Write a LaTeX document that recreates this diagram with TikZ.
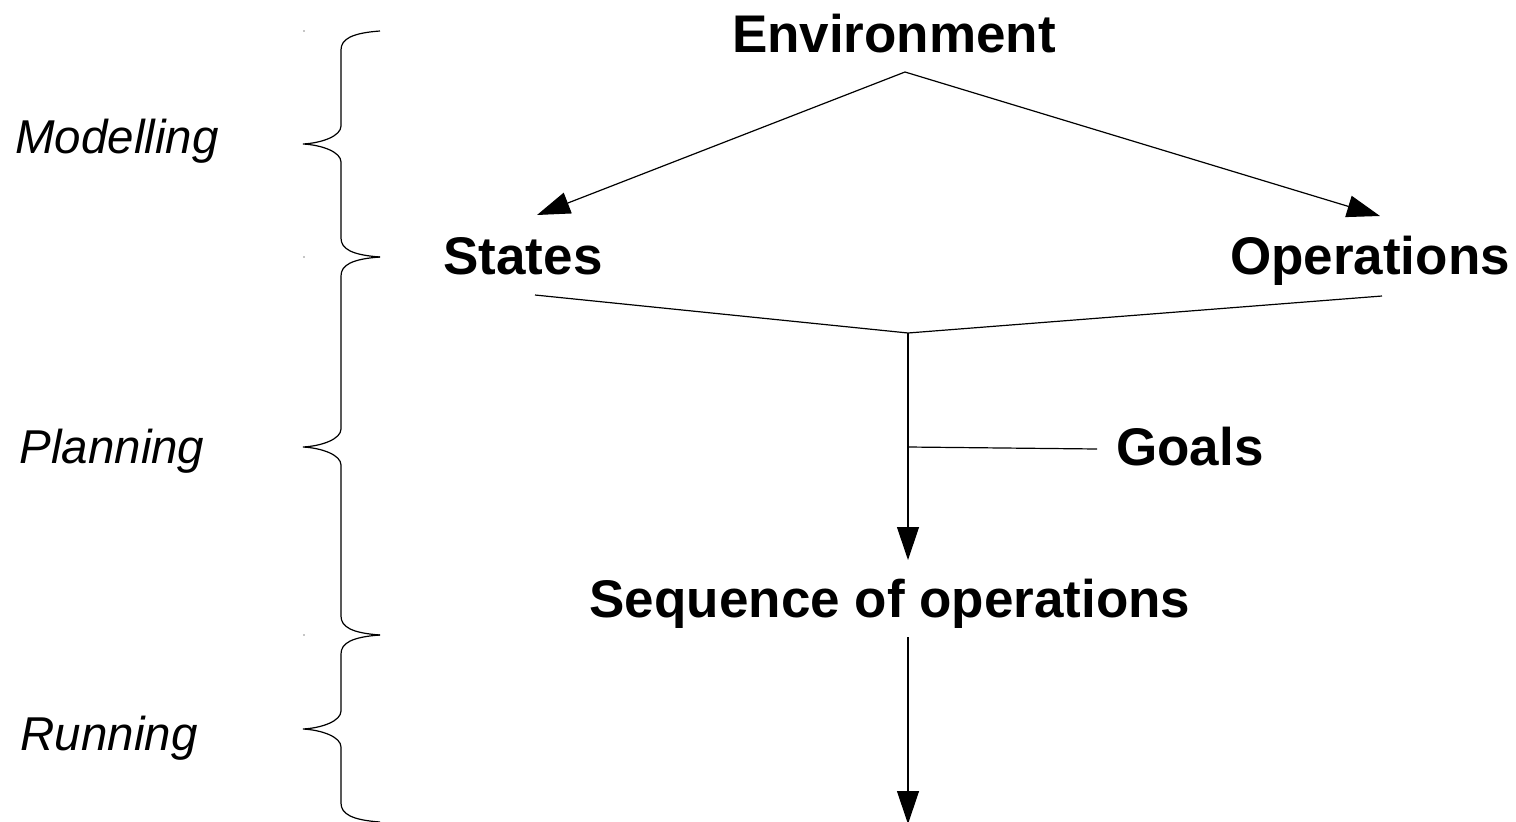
\documentclass[tikz,border=0pt]{standalone}
\usepackage{fontspec}
\setmainfont{Liberation Sans}
\usetikzlibrary{arrows.meta}
\tikzset{
  x=1pt, y=-1pt,
  conn/.style={line width=1.2pt, black},
  arr/.style={conn, -{Triangle[length=33pt, width=22pt]}},
  term/.style={font=\fontsize{53}{60}\selectfont\bfseries, anchor=base, inner sep=0pt},
  phase/.style={font=\fontsize{47.5}{54}\selectfont\itshape, anchor=base, inner sep=0pt},
  bracepath/.style={line width=1.2pt, black},
}
\begin{document}
\begin{tikzpicture}
\useasboundingbox (0,0) rectangle (1516,822);

% phase labels
\node[phase] (modelling) at (117,153) {Modelling};
\node[phase] (planning) at (112,463) {Planning};
\node[phase] (running) at (109,750) {Running};

% curly braces grouping the phases
\foreach \t/\m/\b in {31/144/257, 257/447/635, 635/729/822}{
  \draw[bracepath] (380,\t) .. controls (352,\t+2) and (341,\t+8) .. (341,\t+19)
    -- (341,\m-18) .. controls (341,\m-8) and (322,\m-1) .. (303,\m)
    .. controls (322,\m+1) and (341,\m+8) .. (341,\m+18)
    -- (341,\b-19) .. controls (341,\b-8) and (352,\b-2) .. (380,\b);
  \fill[black!45] (304,\t) circle (0.8);
}

% terms
\node[term] (env) at (894,52) {Environment};
\node[term] (states) at (523,274) {States};
\node[term] (ops) at (1370,274) {Operations};
\node[term] (goals) at (1190,465) {Goals};
\node[term] (seq) at (890,617) {Sequence of operations};

% junction points of the connectors
\coordinate (fork) at (905,72);
\coordinate (stTip) at (537,215);
\coordinate (opTip) at (1380,216);
\coordinate (stFoot) at (535,295);
\coordinate (opFoot) at (1382,296);
\coordinate (merge) at (908,333);
\coordinate (goalJoin) at (908,447);
\coordinate (goalEnd) at (1097,449);
\coordinate (seqTip) at (908,560);
\coordinate (seqFoot) at (908,637);
\coordinate (runTip) at (908,824);

\draw[arr] (fork) -- (stTip);
\draw[arr] (fork) -- (opTip);
\draw[conn] (stFoot) -- (merge) -- (opFoot);
\draw[arr] (merge) -- (seqTip);
\draw[conn] (goalJoin) -- (goalEnd);
\draw[arr] (seqFoot) -- (runTip);
\end{tikzpicture}
\end{document}
